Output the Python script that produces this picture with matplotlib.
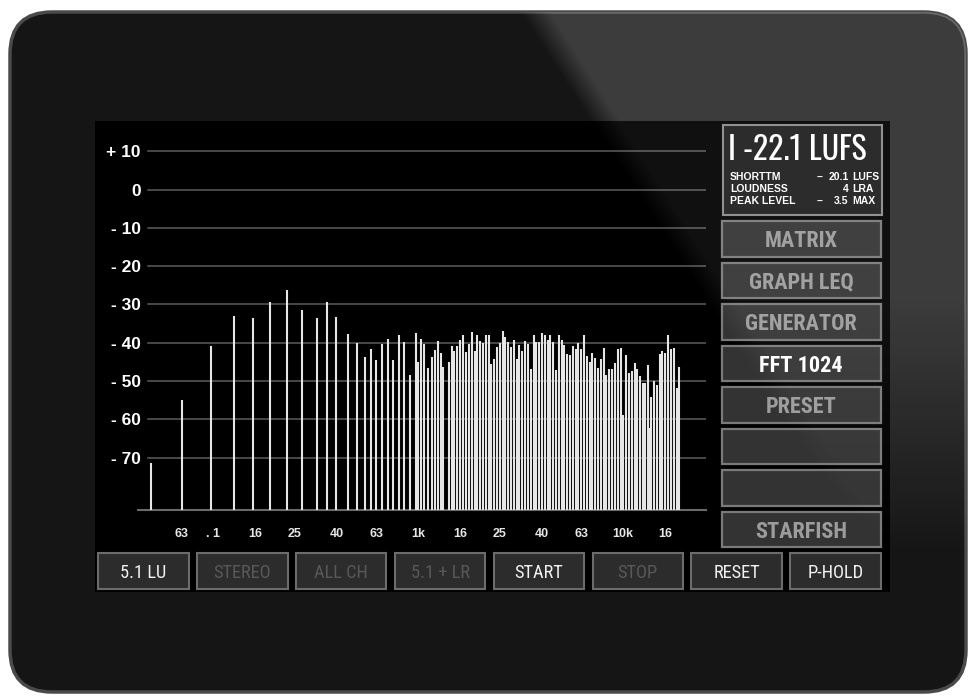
import matplotlib
matplotlib.use('Agg')
import matplotlib.pyplot as plt
import numpy as np
from matplotlib.patches import FancyBboxPatch, Rectangle
from matplotlib.ticker import NullLocator

# Спектр FFT: частоты полос (Гц) и уровни (дБ)
freqs = [49.8, 70.8, 97.8, 126.6, 157.3, 190.3, 228.8, 271.7, 320.5, 358.6,
         399.4, 454, 502.3, 553.4, 587.9, 626, 665, 711.4, 757.7, 805,
         857.4, 911, 974.5, 1000, 1038, 1070, 1115, 1174, 1214, 1252,
         1290, 1320, 1416, 1460, 1504, 1555, 1603, 1658, 1715, 1774,
         1828, 1891, 1947, 2014, 2076, 2140, 2213, 2279, 2357, 2429,
         2512, 2589, 2666, 2757, 2842, 2940, 3030, 3120, 3227, 3326,
         3440, 3558, 3668, 3776, 3906, 4026, 4150, 4292, 4420, 4571,
         4712, 4857, 5023, 5172, 5331, 5514, 5684, 5879, 6053, 6260,
         6453, 6652, 6880, 7084, 7326, 7552, 7785, 8052, 8290, 8545,
         8838, 9111, 9454, 9778, 10000, 10378, 10697, 11026, 11404, 11742,
         12104, 12519, 12804, 13287, 13544, 13743, 14166, 14601, 15102, 15551,
         16084, 16581, 17149, 17678, 18283, 18824]
levels = [-71.3, -55.0, -40.8, -33.1, -33.5, -29.3, -26.2, -31.5, -33.6, -29.3,
          -33.4, -37.8, -40.2, -43.8, -41.7, -44.6, -40.4, -39.1, -44.6, -38.0,
          -39.7, -48.4, -37.5, -45.1, -38.9, -40.4, -46.5, -43.7, -41.9, -39.5,
          -42.8, -46.4, -45.1, -40.9, -42.2, -40.9, -39.3, -38.0, -42.4, -40.3,
          -37.1, -42.2, -38.0, -39.6, -40.2, -38.0, -38.0, -45.6, -44.3, -41.2,
          -40.0, -36.9, -38.4, -39.7, -41.0, -39.3, -44.3, -40.6, -42.1, -39.5,
          -40.4, -46.9, -38.0, -39.8, -39.7, -37.5, -38.0, -39.3, -38.0, -39.7,
          -47.1, -38.0, -39.3, -40.6, -43.0, -43.3, -40.9, -41.7, -40.0, -41.7,
          -38.0, -43.5, -45.0, -42.8, -44.1, -46.7, -44.3, -41.5, -48.4, -46.9,
          -46.9, -45.2, -41.7, -41.5, -58.9, -43.1, -48.0, -47.4, -45.2, -46.9,
          -48.7, -50.4, -50.4, -45.8, -62.2, -54.1, -50.0, -51.0, -43.0, -42.2,
          -42.6, -38.0, -41.7, -41.5, -51.9, -46.3]

grid_levels = [10, 0, -10, -20, -30, -40, -50, -60, -70]
grid_labels = ['+ 10', '0', '- 10', '- 20', '- 30', '- 40', '- 50', '- 60', '- 70']
tick_freqs = [70, 100, 160, 250, 400, 630, 1000, 1600, 2500, 4000, 6300, 10000, 16000]
tick_labels = ['63', '. 1', '16', '25', '40', '63', '1k', '16', '25', '40', '63', '10k', '16']

side_buttons = ['MATRIX', 'GRAPH LEQ', 'GENERATOR', 'FFT 1024', 'PRESET', '', '', 'STARFISH']
side_active = [False, False, False, True, False, False, False, False]
bottom_buttons = ['5.1 LU', 'STEREO', 'ALL CH', '5.1 + LR', 'START', 'STOP', 'RESET', 'P-HOLD']
bottom_active = [True, False, False, False, True, False, True, True]

integrated = 'I -22.1 LUFS'
meter_rows = ['SHORTTM', 'LOUDNESS', 'PEAK LEVEL']
meter_signs = ['\u2013', '', '\u2013']
meter_values = ['20.1', '4', '3.5']
meter_units = ['LUFS', 'LRA', 'MAX']

plt.rcParams['font.family'] = ['Liberation Sans', 'DejaVu Sans']
narrow = ['Roboto Condensed', 'Liberation Sans']
tall = ['Oswald', 'Roboto Condensed', 'Liberation Sans']

W, H = 974, 697
fig = plt.figure(figsize=(W / 100, H / 100), dpi=100, facecolor='white')

# Корпус прибора (координаты в пикселях)
bg = fig.add_axes([0, 0, 1, 1])
bg.set_xlim(0, W)
bg.set_ylim(H, 0)
bg.axis('off')

body = FancyBboxPatch((10, 12), 956, 680, boxstyle='round,pad=0,rounding_size=42',
                      fc='#151515', ec='#4a4a4a', lw=2.5)
bg.add_patch(body)

# Блик на корпусе
yy, xx = np.mgrid[0:H, 0:W] + 0.5
d = xx - (522 + 0.64 * (yy - 15))
edge = np.clip(d / 30, 0, 1)
fade = np.clip(1 - (yy - 300) / 260, 0, 1)
gloss = np.zeros((H, W, 4))
gloss[..., :3] = 1
gloss[..., 3] = 0.17 * edge * fade
im = bg.imshow(gloss, extent=(0, W, H, 0), interpolation='bilinear', zorder=1)
im.set_clip_path(body)
bg.set_xlim(0, W)
bg.set_ylim(H, 0)

# Экран
bg.add_patch(Rectangle((95, 121), 795, 471, fc='black', ec='none', zorder=2))

# Блок громкости
bg.add_patch(Rectangle((723, 125), 159, 90, fc='#1e1e1e', ec='#8a8a8a', lw=1.5, zorder=3))
bg.text(728, 159.5, integrated, family=tall, fontsize=23, color='white',
        ha='left', va='baseline', zorder=4)
for i in range(3):
    yb = 180.5 + i * 12
    bg.text(730, yb, meter_rows[i], fontsize=7.5, weight='bold', color='white',
            ha='left', va='baseline', zorder=4)
    bg.text(817, yb, meter_signs[i], fontsize=7.5, weight='bold', color='white',
            ha='left', va='baseline', zorder=4)
    bg.text(848.5, yb, meter_values[i], fontsize=7.5, weight='bold', color='white',
            ha='right', va='baseline', zorder=4)
    bg.text(852, yb, meter_units[i], fontsize=7.5, weight='bold', color='white',
            ha='left', va='baseline', zorder=4)

# Кнопки справа
for i, name in enumerate(side_buttons):
    top = 221 + i * 41.5
    bg.add_patch(Rectangle((722, top), 159, 35.5, fc='#333333', ec='#7a7a7a',
                           lw=1.6, zorder=3))
    bg.text(801, top + 26, name, family=narrow, fontsize=16, weight='bold',
            color='white' if side_active[i] else '#9c9c9c',
            ha='center', va='baseline', zorder=4)

# Кнопки снизу
for i, name in enumerate(bottom_buttons):
    left = 98.3 + i * 98.85
    bg.add_patch(Rectangle((left, 553.3), 90.4, 35.2, fc='#2c2c2c', ec='#6c6c6c',
                           lw=1.5, zorder=3))
    bg.text(left + 45.2, 578.3, name, family=narrow, fontsize=13.2,
            color='#f2f2f2' if bottom_active[i] else '#585858',
            ha='center', va='baseline', zorder=4)

# График спектра
base = -83.55
ax = fig.add_axes([138 / W, (H - 509.5) / H, (706 - 138) / W, (509.5 - 121) / H])
ax.set_zorder(1)
ax.patch.set_alpha(0)
ax.set_xscale('log')
ax.set_xlim(43.05, 25410)
ax.set_ylim(base, 17.9)
for s in ax.spines.values():
    s.set_visible(False)

for lv in grid_levels:
    ax.axhline(lv, xmin=10 / 568, xmax=1, color='#5c5c5c', lw=1.1)
ax.axhline(base, color='#6a6a6a', lw=1.5, clip_on=False)
ax.vlines(freqs, base, levels, colors='#e6e6e6', lw=1.5)

ax.xaxis.set_minor_locator(NullLocator())
ax.set_xticks(tick_freqs, tick_labels)
ax.set_yticks(grid_levels, grid_labels)
ax.tick_params(axis='x', length=0, pad=13, labelsize=9, labelcolor='#e6e6e6')
ax.tick_params(axis='y', length=0, pad=-2, labelsize=12.5, labelcolor='white')
for lab in ax.get_xticklabels() + ax.get_yticklabels():
    lab.set_fontweight('bold')

# Слабый блик на стекле экрана
glass = fig.add_axes([0, 0, 1, 1])
glass.set_zorder(2)
glass.patch.set_alpha(0)
glass.axis('off')
shine = np.zeros((H, W, 4))
shine[..., :3] = 1
shine[..., 3] = 0.07 * edge * fade
im2 = glass.imshow(shine, extent=(0, W, H, 0), interpolation='bilinear')
screen_clip = Rectangle((95, 121), 795, 471, transform=glass.transData)
im2.set_clip_path(screen_clip)
glass.set_xlim(0, W)
glass.set_ylim(H, 0)

fig.savefig('out.png', dpi=100, facecolor='white')
